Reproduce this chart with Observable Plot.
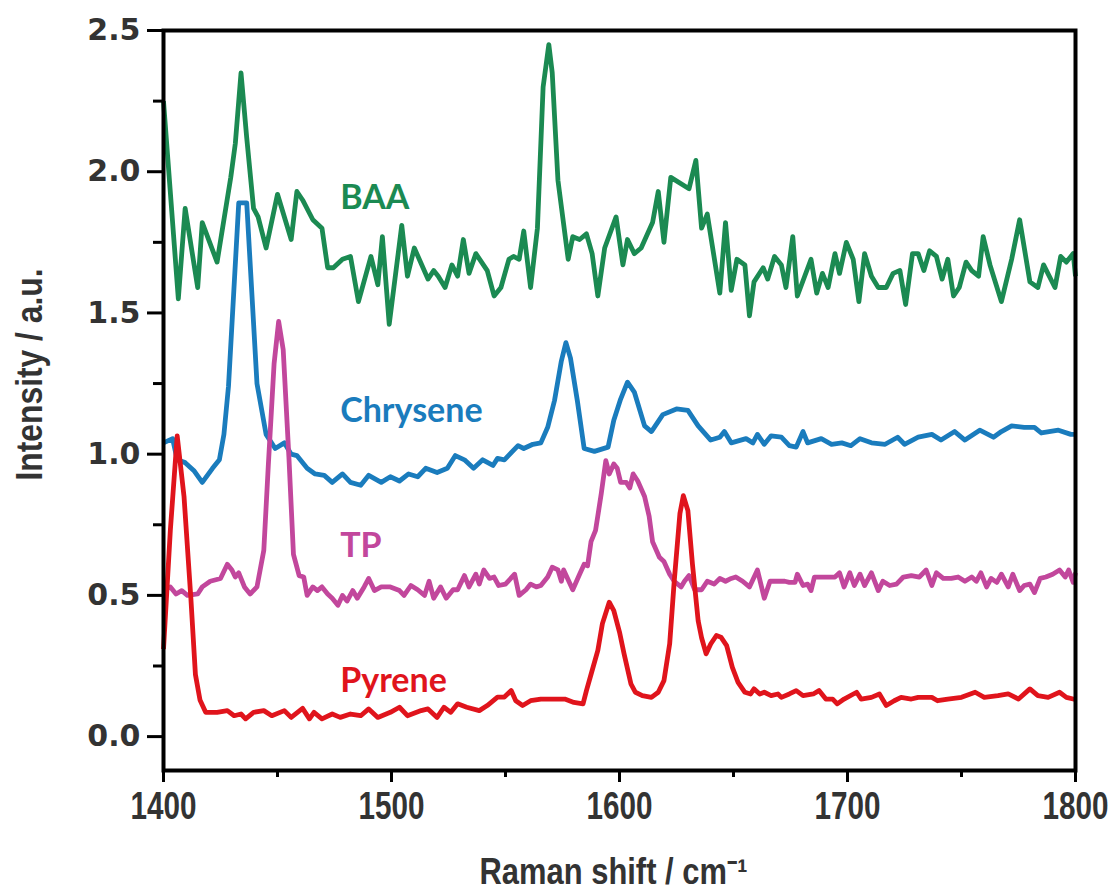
<!DOCTYPE html>
<html><head><meta charset="utf-8">
<script src="https://cdn.jsdelivr.net/npm/d3@7"></script>
<script src="https://cdn.jsdelivr.net/npm/@observablehq/plot@0.6"></script>
<style>html,body{margin:0;padding:0;background:#fff;overflow:hidden}#chart svg{display:block}</style>
</head><body><div id="chart"></div>
<script>
// Raman shift (cm-1) and intensity (a.u.) for each spectrum
const baaX = [1400,1406.5,1409.5,1415,1417,1423.5,1429.5,1431.5,1434,1436.5,1439.5,1441.5,1445,1450,1456,1458.5,1461,1465.5,1469.5,1472,1474.5,1478.5,1482,1485.5,1491,1494,1496,1499,1504.5,1507,1510,1516,1518.5,1520.5,1523.5,1526.5,1529,1531.5,1534,1537,1542,1545,1548,1551.5,1553.5,1556,1558,1561,1564,1566.5,1569,1570.5,1573,1577.5,1579.5,1582.5,1585.5,1588,1590.5,1593.5,1598.5,1601.5,1603.5,1606.5,1609.5,1614.5,1617,1619.5,1622.5,1630.5,1633.5,1636,1638.5,1644,1646.5,1649,1651.5,1655,1657,1659,1663,1665,1668,1671,1673,1676,1678,1684,1686.5,1689,1691.5,1694.5,1696.5,1699.5,1702.5,1705,1707.5,1710.5,1713.5,1717,1720,1723,1725.5,1728.5,1731,1733.5,1736,1739,1741.5,1744,1746.5,1749,1752,1754.5,1757.5,1759.5,1762.5,1767.5,1772,1775.5,1780,1783.5,1786,1791,1793.5,1796,1799,1800];
const baaY = [2.25,1.55,1.87,1.59,1.82,1.68,1.98,2.10,2.35,2.12,1.87,1.84,1.73,1.92,1.76,1.93,1.90,1.83,1.80,1.66,1.66,1.69,1.70,1.54,1.70,1.60,1.77,1.46,1.81,1.63,1.73,1.62,1.65,1.63,1.59,1.67,1.63,1.76,1.64,1.71,1.65,1.56,1.59,1.69,1.70,1.69,1.79,1.59,1.80,2.30,2.45,2.35,1.97,1.69,1.77,1.76,1.78,1.71,1.56,1.73,1.84,1.67,1.76,1.71,1.73,1.82,1.93,1.75,1.98,1.94,2.04,1.80,1.85,1.57,1.82,1.58,1.69,1.67,1.49,1.61,1.66,1.62,1.70,1.67,1.59,1.77,1.56,1.69,1.57,1.64,1.59,1.71,1.64,1.75,1.69,1.54,1.71,1.63,1.59,1.59,1.64,1.65,1.53,1.71,1.71,1.65,1.72,1.70,1.62,1.69,1.56,1.59,1.68,1.65,1.63,1.77,1.67,1.54,1.69,1.83,1.61,1.59,1.67,1.59,1.70,1.68,1.71,1.63];

const chryX = [1400,1404,1406,1409.5,1413.5,1417,1421.5,1424.5,1426.5,1428.5,1433,1436.5,1441,1445,1449,1453,1456,1458.5,1463,1466.5,1470.5,1474,1478.5,1482,1486.5,1490,1495.5,1499.5,1503.5,1507.5,1511.5,1515,1520,1524.5,1528,1532,1536,1540,1544.5,1546.5,1549.5,1555.5,1558,1562,1565.5,1568.5,1571.5,1574.5,1576.5,1578.5,1581.5,1584.5,1589,1595,1597.5,1600.5,1603.5,1606.5,1611,1614,1619,1625,1630,1634.5,1640,1644,1646,1649,1655.5,1658.5,1660.5,1663.5,1666.5,1671,1674.5,1677.5,1680.5,1682.5,1688.5,1693,1697.5,1701.5,1705.5,1710.5,1716.5,1722,1725,1731,1737,1741,1747,1751.5,1758,1764,1767.5,1772,1777.5,1782,1785,1792.5,1798,1800];
const chryY = [1.04,1.055,0.98,0.97,0.94,0.90,0.95,0.98,1.07,1.24,1.89,1.89,1.25,1.07,1.02,1.04,1.00,0.995,0.95,0.93,0.925,0.90,0.93,0.90,0.89,0.925,0.90,0.92,0.905,0.93,0.92,0.95,0.935,0.95,0.995,0.98,0.95,0.98,0.96,0.985,0.98,1.03,1.02,1.035,1.04,1.095,1.19,1.33,1.395,1.34,1.19,1.02,1.01,1.025,1.12,1.195,1.255,1.22,1.10,1.08,1.14,1.16,1.155,1.10,1.05,1.06,1.08,1.04,1.055,1.04,1.07,1.035,1.065,1.06,1.03,1.025,1.08,1.04,1.055,1.035,1.04,1.03,1.055,1.04,1.035,1.06,1.035,1.06,1.07,1.05,1.08,1.05,1.085,1.06,1.08,1.10,1.095,1.095,1.075,1.085,1.07,1.07];

const tpX = [1400,1403,1405.5,1408,1410.5,1415,1417,1420.5,1425,1428,1430,1431.5,1433,1435.5,1438,1441,1444,1446,1448.5,1450.5,1452.5,1455,1457,1459.5,1461.5,1463,1465.5,1467.5,1469.5,1472,1474,1476.5,1478.5,1480.5,1483,1485,1488,1490,1492.5,1495.5,1499.5,1503.5,1505.5,1508.5,1511.5,1514.5,1516.5,1518.5,1521.5,1524,1527,1529,1532,1534,1537,1538.5,1540.5,1543,1545,1547,1550,1554,1556,1559,1561,1563.5,1565.5,1568.5,1570.5,1573,1574.5,1575.5,1579.5,1582.5,1584.5,1586,1587.5,1589.5,1592,1594,1595.5,1597.5,1599,1600.5,1603,1604.5,1606,1608,1611,1613,1614.5,1617.5,1619.5,1622,1624,1627,1628.5,1630.5,1633,1636,1638.5,1641.5,1644,1646.5,1649,1651,1654,1657,1660.5,1662,1663.5,1666,1669,1672.5,1674.5,1677,1678,1680.5,1682.5,1684,1685.5,1688.5,1694.5,1696.5,1698.5,1701,1703,1705.5,1707.5,1710.5,1713.5,1715.5,1718.5,1721.5,1724.5,1728,1731.5,1734.5,1737,1739,1742,1745.5,1748.5,1751.5,1754.5,1756.5,1758.5,1761,1763,1765.5,1767.5,1770.5,1772.5,1775.5,1777.5,1780,1782,1784.5,1787,1790,1793,1795.5,1797,1799,1800];
const tpY = [0.517,0.53,0.505,0.517,0.50,0.505,0.53,0.55,0.56,0.61,0.59,0.565,0.58,0.53,0.505,0.53,0.66,0.965,1.32,1.47,1.37,0.99,0.645,0.57,0.565,0.50,0.53,0.517,0.53,0.505,0.49,0.465,0.50,0.48,0.517,0.49,0.53,0.56,0.517,0.53,0.53,0.517,0.50,0.535,0.52,0.50,0.55,0.49,0.53,0.49,0.52,0.52,0.57,0.53,0.575,0.54,0.59,0.56,0.565,0.535,0.54,0.575,0.50,0.52,0.54,0.53,0.535,0.565,0.60,0.59,0.55,0.59,0.52,0.575,0.61,0.605,0.69,0.73,0.86,0.977,0.93,0.965,0.95,0.90,0.90,0.88,0.93,0.905,0.85,0.78,0.69,0.635,0.62,0.575,0.55,0.53,0.55,0.57,0.52,0.52,0.55,0.54,0.56,0.55,0.56,0.565,0.55,0.53,0.59,0.54,0.49,0.55,0.55,0.55,0.546,0.546,0.575,0.535,0.54,0.517,0.565,0.565,0.565,0.58,0.53,0.58,0.535,0.575,0.535,0.58,0.517,0.55,0.535,0.54,0.565,0.57,0.565,0.59,0.535,0.58,0.56,0.56,0.565,0.55,0.565,0.55,0.58,0.53,0.56,0.546,0.575,0.53,0.575,0.517,0.535,0.54,0.51,0.56,0.565,0.575,0.59,0.565,0.59,0.546,0.58];

const pyrX = [1400,1403,1406,1409,1412,1414,1416,1418.5,1423.5,1428,1431,1434,1436,1439.5,1444,1447.5,1453,1456,1461,1464,1466,1469.5,1474,1477.5,1482,1486.5,1490,1494,1499.5,1503.5,1507,1513,1516,1520,1523,1526,1529,1533,1538.5,1542,1546.5,1549.5,1552.5,1554.5,1557.5,1561,1565.5,1570,1576,1580,1584,1585.5,1588,1590.5,1592.5,1595.5,1597.5,1600,1602,1605,1607,1610,1614,1617,1619.5,1622,1624,1626.5,1628,1630,1632,1634.5,1636,1638,1640,1642.5,1644.5,1647,1649.5,1652,1655,1657.5,1659,1661.5,1663.5,1666.5,1669.5,1671,1674.5,1677.5,1680.5,1685,1687.5,1690.5,1693.5,1695.5,1698.5,1704,1706,1710.5,1714,1717,1720.5,1723.5,1728,1731,1737,1739.5,1744,1750,1756,1760,1766,1770.5,1775,1780,1783.5,1788,1793,1796,1799,1800];
const pyrY = [0.31,0.73,1.065,0.85,0.49,0.22,0.13,0.086,0.086,0.092,0.074,0.08,0.063,0.086,0.092,0.074,0.092,0.068,0.10,0.063,0.086,0.063,0.08,0.068,0.08,0.074,0.098,0.068,0.086,0.104,0.074,0.092,0.098,0.068,0.104,0.086,0.116,0.104,0.092,0.11,0.14,0.14,0.163,0.127,0.11,0.127,0.133,0.133,0.133,0.121,0.116,0.163,0.234,0.305,0.40,0.476,0.446,0.37,0.293,0.187,0.157,0.145,0.139,0.157,0.198,0.328,0.55,0.79,0.853,0.80,0.61,0.41,0.35,0.293,0.328,0.358,0.352,0.322,0.245,0.192,0.157,0.151,0.169,0.151,0.157,0.145,0.151,0.139,0.151,0.163,0.145,0.151,0.163,0.133,0.133,0.116,0.133,0.157,0.133,0.139,0.151,0.11,0.127,0.139,0.133,0.139,0.139,0.127,0.133,0.139,0.157,0.139,0.145,0.151,0.133,0.169,0.145,0.139,0.157,0.139,0.133,0.133];

const seriesNames = ["BAA", "Chrysene", "TP", "Pyrene"];
const seriesColors = ["#1b8a52", "#1a7cbd", "#c2479c", "#e0141c"];
const labelX = [1477.5, 1477.5, 1477.5, 1477.5];
const labelY = [1.905, 1.154, 0.676, 0.198];
const yTicks = [0, 0.5, 1, 1.5, 2, 2.5];
const yMinor = [0.25, 0.75, 1.25, 1.75, 2.25];
const xTicks = [1400, 1500, 1600, 1700, 1800];
const xMinor = [1450, 1550, 1650, 1750];
const xTitle = "Raman shift / cm\u207B\u00B9";
const yTitle = "Intensity / a.u.";

const xs = [baaX, chryX, tpX, pyrX];
const ys = [baaY, chryY, tpY, pyrY];
const rows = [];
seriesNames.forEach((s, i) => xs[i].forEach((x, j) => rows.push({series: s, x, y: ys[i][j]})));
const labels = seriesNames.map((s, i) => ({series: s, x: labelX[i], y: labelY[i]}));

const condensed = "'Liberation Sans Narrow', 'Liberation Sans', sans-serif";
const chart = Plot.plot({
  width: 1120, height: 895,
  marginLeft: 163, marginRight: 45, marginTop: 30, marginBottom: 125,
  x: {domain: [1400, 1800]},
  y: {domain: [-0.12, 2.5]},
  color: {domain: seriesNames, range: seriesColors},
  style: {background: "#fff", color: "#333", overflow: "visible"},
  marks: [
    Plot.line(rows, {x: "x", y: "y", z: "series", stroke: "series", strokeWidth: 4.8, strokeLinejoin: "round", strokeLinecap: "butt"}),
    Plot.text(labels, {x: "x", y: "y", text: "series", fill: "series", textAnchor: "start", fontSize: 34, fontWeight: "bold", fontFamily: "Lato"}),
    Plot.frame({stroke: "#000", strokeWidth: 4}),
    Plot.axisY(yTicks, {tickSize: 16, tickPadding: 7, strokeWidth: 3, stroke: "#000", fill: "#333", tickFormat: d3.format(".1f"), fontSize: 30, fontWeight: "bold", fontFamily: "DejaVu Sans", label: null}),
    Plot.axisY(yMinor, {tickSize: 10, strokeWidth: 3, stroke: "#000", tickFormat: () => "", label: null}),
    Plot.axisX(xTicks, {tickSize: 12, tickPadding: 10, strokeWidth: 3, stroke: "#000", fill: "#333", tickFormat: d3.format("d"), fontSize: 38, fontWeight: "bold", fontFamily: condensed, label: null}),
    Plot.axisX(xMinor, {tickSize: 7, strokeWidth: 3, stroke: "#000", tickFormat: () => "", label: null}),
    Plot.text([yTitle], {frameAnchor: "left", textAnchor: "middle", dx: -133, dy: -26, rotate: -90, fontSize: 37, fontWeight: "bold", fontFamily: condensed, fill: "#333"}),
    Plot.text([xTitle], {frameAnchor: "bottom", textAnchor: "middle", lineAnchor: "bottom", dx: -6, dy: 113, fontSize: 36, fontWeight: "bold", fontFamily: condensed, fill: "#333"})
  ]
});
// condense the axis texts to match the narrow type of the original
const svg = d3.select(chart);
svg.selectAll("text").each(function() {
  const t = this.textContent;
  const el = d3.select(this);
  if (t === yTitle) el.attr("textLength", 212).attr("lengthAdjust", "spacingAndGlyphs");
  else if (t === xTitle) el.attr("textLength", 268).attr("lengthAdjust", "spacingAndGlyphs");
  else if (/^1[4-8]00$/.test(t)) el.attr("textLength", 66).attr("lengthAdjust", "spacingAndGlyphs");
});
document.getElementById("chart").appendChild(chart);
</script>
</body></html>
